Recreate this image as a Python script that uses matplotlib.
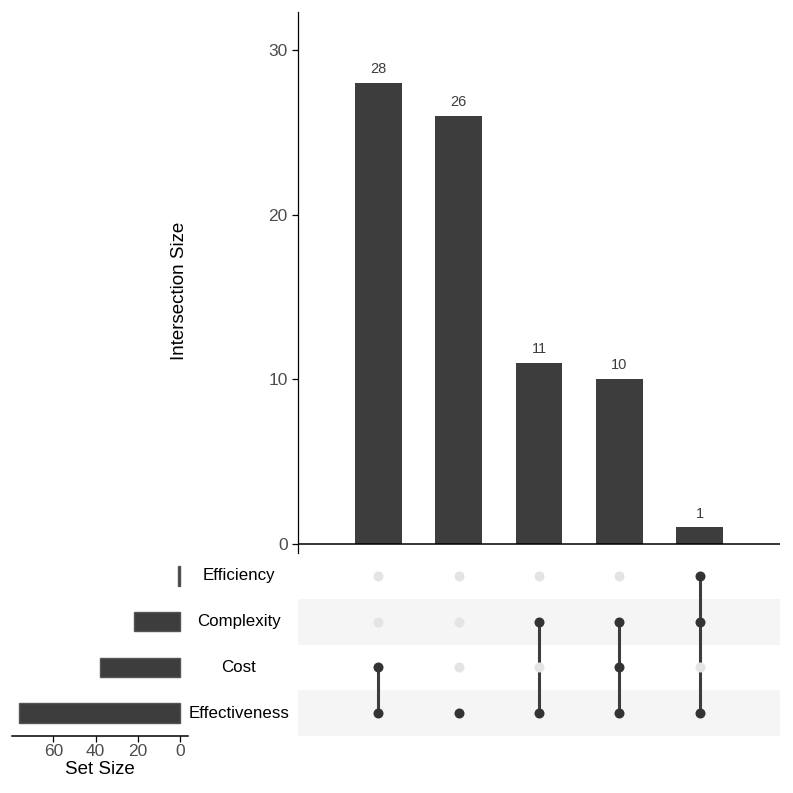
import matplotlib
matplotlib.use("Agg")
import matplotlib.pyplot as plt
import matplotlib.transforms as mtransforms

plt.rcParams['font.family'] = ['Liberation Sans', 'DejaVu Sans']

# sets, bottom row first
set_names = ["Effectiveness", "Cost", "Complexity", "Efficiency"]
set_sizes = [76, 38, 22, 1]

# intersections, left to right
inter_sizes = [28, 26, 11, 10, 1]
inter_members = [
    ["Effectiveness", "Cost"],
    ["Effectiveness"],
    ["Effectiveness", "Complexity"],
    ["Effectiveness", "Cost", "Complexity"],
    ["Effectiveness", "Complexity", "Efficiency"],
]

dark = "#3d3d3d"
light_dot = "#e4e4e4"
stripe = "#f5f5f5"
tick_grey = "#4d4d4d"

W = H = 793
fig = plt.figure(figsize=(7.93, 7.93), dpi=100)

def px_axes(x0, y0, x1, y1):
    # pixel box -> figure fraction
    return fig.add_axes([x0 / W, 1 - y1 / H, (x1 - x0) / W, (y1 - y0) / H])

ax_bar = px_axes(298, 12, 780, 553)
ax_mat = px_axes(298, 553, 780, 736)
ax_set = px_axes(12, 553, 188, 736)

xs = list(range(1, len(inter_sizes) + 1))
rows = {name: i + 1 for i, name in enumerate(set_names)}

# intersection bars
ax_bar.bar(xs, inter_sizes, width=0.58, color=dark)
for x, v in zip(xs, inter_sizes):
    ax_bar.annotate(str(v), (x, v), xytext=(0, 5), textcoords="offset points",
                    ha="center", va="bottom", fontsize=10.5, color=dark)
ax_bar.set_xlim(0, len(xs) + 1)
ax_bar.set_ylim(-0.55, 32.3)
ax_bar.axhline(0, color="black", lw=1.1)
for s in ["top", "right", "bottom"]:
    ax_bar.spines[s].set_visible(False)
ax_bar.spines["left"].set_linewidth(0.9)
ax_bar.set_xticks([])
ax_bar.set_yticks([0, 10, 20, 30])
ax_bar.tick_params(axis="y", labelsize=12.5, labelcolor=tick_grey, length=4, width=0.9)
fig.text(180 / W, 1 - 291 / H, "Intersection Size", rotation=90,
         ha="center", va="center", fontsize=13.5)

# matrix
ax_mat.set_xlim(0, len(xs) + 1)
ax_mat.set_ylim(0.5, len(set_names) + 0.5)
for i in range(len(set_names)):
    if i % 2 == 0:
        ax_mat.axhspan(i + 0.5, i + 1.5, color=stripe, lw=0, zorder=0)
for x, members in zip(xs, inter_members):
    for name in set_names:
        on = name in members
        ax_mat.scatter(x, rows[name], s=52, color="#333333" if on else light_dot,
                       zorder=3, lw=0)
    ys = [rows[m] for m in members]
    if len(ys) > 1:
        ax_mat.plot([x, x], [min(ys), max(ys)], color=dark, lw=2.2, zorder=2)
ax_mat.axis("off")

# set sizes
ax_set.barh(range(1, len(set_names) + 1), set_sizes, height=0.43, color=dark,
            edgecolor="#555555", linewidth=1.0)
ax_set.set_xlim(79.5, -3.7)
ax_set.set_ylim(0.5, len(set_names) + 0.5)
for s in ["top", "right", "left"]:
    ax_set.spines[s].set_visible(False)
ax_set.spines["bottom"].set_linewidth(1.1)
ax_set.set_yticks([])
ax_set.set_xticks([0, 20, 40, 60])
ax_set.tick_params(axis="x", labelsize=12.5, labelcolor=tick_grey, length=4, width=0.9, pad=2)
ax_set.set_xlabel("Set Size", fontsize=13.5, labelpad=1)

trans = mtransforms.blended_transform_factory(fig.transFigure, ax_set.transData)
for name in set_names:
    ax_set.text(239 / W, rows[name], name, transform=trans, ha="center",
                va="center", fontsize=12.2, clip_on=False)

fig.savefig("out.png", dpi=100, facecolor="white")
